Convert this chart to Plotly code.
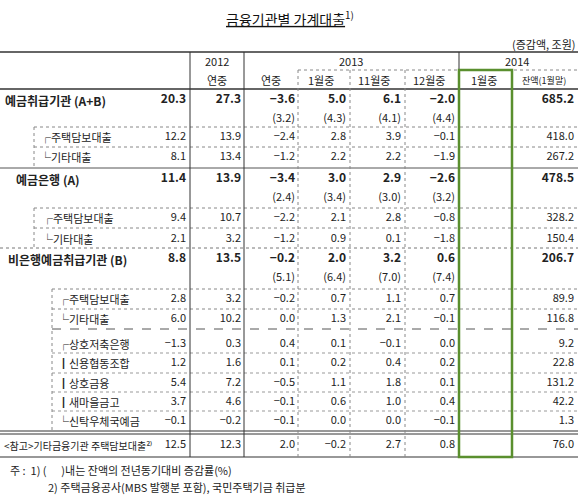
import plotly.graph_objects as go

row_labels = ["예금취급기관 (A+B)", "┌주택담보대출", "└기타대출", "예금은행 (A)", "┌주택담보대출", "└기타대출",
              "비은행예금취급기관 (B)", "┌주택담보대출", "└기타대출", "┌상호저축은행", "┃신용협동조합", "┃상호금융",
              "┃새마을금고", "└신탁우체국예금", "<참고>기타금융기관 주택담보대출²⁾"]
y2012 = [20.3, 12.2, 8.1, 11.4, 9.4, 2.1, 8.8, 2.8, 6.0, -1.3, 1.2, 5.4, 3.7, -0.1, 12.5]
y2013 = [27.3, 13.9, 13.4, 13.9, 10.7, 3.2, 13.5, 3.2, 10.2, 0.3, 1.6, 7.2, 4.6, -0.2, 12.3]
m2013_01 = [-3.6, -2.4, -1.2, -3.4, -2.2, -1.2, -0.2, -0.2, 0.0, 0.4, 0.1, -0.5, -0.1, -0.1, 2.0]
m2013_11 = [5.0, 2.8, 2.2, 3.0, 2.1, 0.9, 2.0, 0.7, 1.3, 0.1, 0.2, 1.1, 0.6, 0.0, -0.2]
m2013_12 = [6.1, 3.9, 2.2, 2.9, 2.8, 0.1, 3.2, 1.1, 2.1, -0.1, 0.4, 1.8, 1.0, 0.0, 2.7]
m2014_01 = [-2.0, -0.1, -1.9, -2.6, -0.8, -1.8, 0.6, 0.7, -0.1, 0.0, 0.2, 0.1, 0.4, -0.1, 0.8]
balance = [685.2, 418.0, 267.2, 478.5, 328.2, 150.4, 206.7, 89.9, 116.8, 9.2, 22.8, 131.2, 42.2, 1.3, 76.0]
growth_rows = [0, 3, 6]
g2013_01 = [3.2, 2.4, 5.1]
g2013_11 = [4.3, 3.4, 6.4]
g2013_12 = [4.1, 3.0, 7.0]
g2014_01 = [4.4, 3.2, 7.4]
bold_rows = [0, 3, 6]

FONT = "Noto Sans CJK KR"
row_y = [100, 137, 157, 179, 218, 239, 259, 299, 319, 344, 363, 383, 402, 421, 445]
label_x = [3, 38, 38, 14, 40, 40, 6, 56, 56, 56, 56, 56, 56, 56, 2]
col_right = [186, 241, 295, 346, 401, 455, 574]
cols = [y2012, y2013, m2013_01, m2013_11, m2013_12, m2014_01, balance]
gcols = [None, None, g2013_01, g2013_11, g2013_12, g2014_01, None]

def fmt(v):
    s = f"{abs(v):.1f}"
    return ("−" + s) if v < 0 else s

fig = go.Figure()
for ci, (vals, xr) in enumerate(zip(cols, col_right)):
    for bold in (True, False):
        idx = [i for i in range(len(vals)) if (i in bold_rows) == bold]
        fig.add_trace(go.Scatter(
            x=[xr] * len(idx), y=[row_y[i] for i in idx],
            text=[("<b>%s</b>" % fmt(vals[i])) if bold else fmt(vals[i]) for i in idx],
            mode="text", textposition="middle left",
            textfont=dict(family=FONT, size=12 if bold else 11, color="#222"),
            hoverinfo="skip", showlegend=False))
    if gcols[ci]:
        fig.add_trace(go.Scatter(
            x=[xr] * len(growth_rows), y=[row_y[i] + 19 for i in growth_rows],
            text=["(%s)" % fmt(v) for v in gcols[ci]],
            mode="text", textposition="middle left",
            textfont=dict(family=FONT, size=11, color="#222"),
            hoverinfo="skip", showlegend=False))

ann = []
for i, lab in enumerate(row_labels):
    ann.append(dict(x=label_x[i], y=row_y[i], text=("<b>%s</b>" % lab) if i in bold_rows else lab,
                    xanchor="left", yanchor="middle", showarrow=False,
                    font=dict(family=FONT, size=12 if i in bold_rows else (10 if i == 14 else 11), color="#222")))
hdr = [(217, 61, "2012"), (351, 61, "2013"), (517, 61, "2014"),
       (217, 80, "연중"), (271, 80, "연중"), (321, 80, "1월중"), (374, 80, "11월중"),
       (429, 80, "12월중"), (484, 80, "1월중"), (544, 80, "잔액(1월말)")]
for x, y, t in hdr:
    ann.append(dict(x=x, y=y, text=t, showarrow=False, xanchor="center", yanchor="middle",
                    font=dict(family=FONT, size=11 if "잔액" not in t else 9, color="#222")))
ann.append(dict(x=290, y=18, text="<u>금융기관별 가계대출</u><sup>1)</sup>", showarrow=False,
                font=dict(family=FONT, size=14, color="#111")))
ann.append(dict(x=578, y=44, text="(증감액, 조원)", showarrow=False, xanchor="right",
                font=dict(family=FONT, size=11, color="#222")))
ann.append(dict(x=8, y=470, text="주 :  1) (      )내는 잔액의 전년동기대비 증감률(%)", showarrow=False, xanchor="left",
                font=dict(family=FONT, size=11, color="#222")))
ann.append(dict(x=46, y=487, text="2) 주택금융공사(MBS 발행분 포함), 국민주택기금 취급분", showarrow=False, xanchor="left",
                font=dict(family=FONT, size=11, color="#222")))

shapes = []
def hl(y, x0=0, x1=578, w=1, dash="solid", c="#333"):
    shapes.append(dict(type="line", x0=x0, x1=x1, y0=y, y1=y, line=dict(color=c, width=w, dash=dash)))
def vl(x, y0, y1, w=1, dash="solid", c="#333"):
    shapes.append(dict(type="line", x0=x, x1=x, y0=y0, y1=y1, line=dict(color=c, width=w, dash=dash)))

hl(52, w=1.5)
hl(70, 298, 578, dash="dot", c="#888")
hl(89, w=1.5)
hl(127, 34, 578, dash="dot", c="#888")
hl(147, 34, 578, dash="dot", c="#888")
hl(168, w=1, c="#555")
hl(208, 34, 578, dash="dot", c="#888")
hl(228, 34, 578, dash="dot", c="#888")
hl(248, dash="dot", c="#777")
hl(289, 52, 578, dash="dot", c="#888")
hl(309, 52, 578, dash="dot", c="#888")
hl(329, 52, 578, dash="dash", c="#555")
for yy in (353, 373, 392, 411):
    hl(yy, 52, 578, dash="dot", c="#999")
hl(431, w=1)
hl(434, w=1)
hl(457, w=1.2)
vl(190, 52, 457)
vl(244, 52, 457)
vl(459, 52, 70)
for x in (298, 350, 405):
    vl(x, 70, 457, dash="dot", c="#888")
vl(512, 70, 457, dash="dot", c="#888")
for x, y0, y1 in ((34, 127, 168), (34, 208, 248), (52, 289, 431)):
    vl(x, y0, y1, dash="dot", c="#888")
shapes.append(dict(type="rect", x0=459, x1=512, y0=70, y1=457, line=dict(color="#5a8f2e", width=2.5)))

fig.update_layout(
    width=580, height=499, margin=dict(l=0, r=0, t=0, b=0),
    paper_bgcolor="white", plot_bgcolor="white",
    xaxis=dict(range=[0, 580], visible=False, fixedrange=True),
    yaxis=dict(range=[499, 0], visible=False, fixedrange=True),
    shapes=shapes, annotations=ann, showlegend=False)
fig.write_html("out.html", config={"displayModeBar": False})
with open("out.html", encoding="utf-8") as f:
    html = f.read()
html = html.replace("<head>", "<head><style>html,body{margin:0;padding:0;overflow:hidden}</style>", 1)
with open("out.html", "w", encoding="utf-8") as f:
    f.write(html)
